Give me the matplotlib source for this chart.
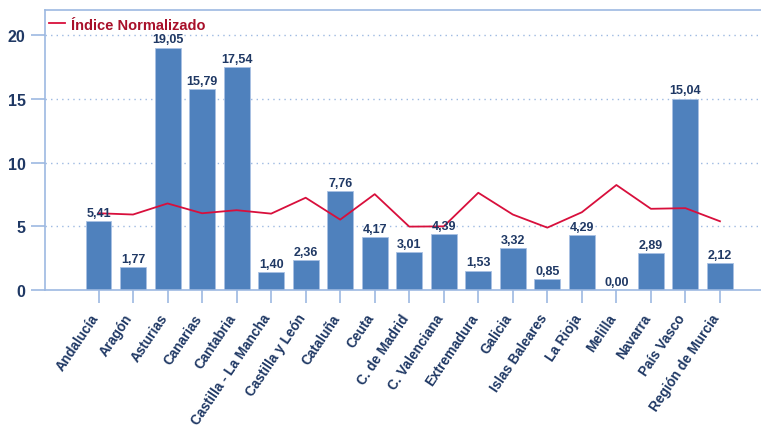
import matplotlib
matplotlib.use("Agg")
import matplotlib.pyplot as plt
import matplotlib.transforms as mtransforms
import numpy as np

plt.rcParams['font.family'] = ['Liberation Sans', 'DejaVu Sans']

categories = ["Andalucía", "Aragón", "Asturias", "Canarias", "Cantabria",
              "Castilla - La Mancha", "Castilla y León", "Cataluña", "Ceuta",
              "C. de Madrid", "C. Valenciana", "Extremadura", "Galicia",
              "Islas Baleares", "La Rioja", "Melilla", "Navarra", "País Vasco",
              "Región de Murcia"]
bar_values = [5.41, 1.77, 19.05, 15.79, 17.54, 1.40, 2.36, 7.76, 4.17,
              3.01, 4.39, 1.53, 3.32, 0.85, 4.29, 0.00, 2.89, 15.04, 2.12]
indice_normalizado = [6.03, 5.93, 6.80, 6.03, 6.27, 6.00, 7.25, 5.53, 7.53,
                      4.98, 5.00, 7.64, 5.93, 4.90, 6.11, 8.25, 6.38, 6.43, 5.40]
yticks = [0, 5, 10, 15, 20]

navy = "#1F3864"
bar_color = "#4F81BD"
line_color = "#D80F3C"
axis_color = "#9DB9E1"

fig = plt.figure(figsize=(7.61, 4.31), dpi=100)
ax = fig.add_axes([45/761, 1-291/431, 1-45/761, (291-11)/431])

x = np.arange(len(categories))
ax.bar(x, bar_values, width=0.75, color=bar_color, edgecolor="#A9C1E3", linewidth=0.6, zorder=2)
ax.plot(x, indice_normalizado, color=line_color, linewidth=1.3, zorder=3, label="Índice Normalizado")

for xi, v in zip(x, bar_values):
    ax.annotate(f"{v:.2f}".replace(".", ","), (xi, v), xytext=(0, 1.5), textcoords="offset points",
                ha="center", va="bottom", fontsize=9, fontweight="bold", color=navy, zorder=4)

ax.set_xlim(-1.55, 18 + (761-720)/34.5)
ax.set_ylim(0, 22)
ax.set_yticks(yticks)
ax.set_yticklabels([str(t) for t in yticks], fontsize=11.5, fontweight="bold", color=navy)
ax.set_xticks(x)
ax.set_xticklabels([])

# category labels, rotated, placed through the x-axis transform with a pixel offset
lbl_trans = ax.get_xaxis_transform() + mtransforms.ScaledTranslation(-9/100, -21/100, fig.dpi_scale_trans)
for xi, name in zip(x, categories):
    ax.text(xi, 0, name, transform=lbl_trans, rotation=56, ha="right", va="top",
            rotation_mode="anchor", fontsize=9.8, fontweight="bold", color=navy, clip_on=False)

for t in yticks[1:]:
    ax.axhline(t, color=axis_color, linestyle=(0, (1, 3)), linewidth=1, zorder=1)

for s in ["left", "bottom", "top"]:
    ax.spines[s].set_color(axis_color)
    ax.spines[s].set_linewidth(1.2)
ax.spines["right"].set_visible(False)
ax.tick_params(axis="y", length=10, width=1.2, color=axis_color, pad=4)
ax.tick_params(axis="x", length=9, width=1.2, color=axis_color, pad=3)

leg = ax.legend(loc="upper left", frameon=False, fontsize=10.5, handlelength=1.1,
                handletextpad=0.4, borderaxespad=0.0, bbox_to_anchor=(-0.002, 0.994))
for txt in leg.get_texts():
    txt.set_color("#A8102A")
    txt.set_fontweight("bold")

fig.savefig("out.png", dpi=100)
